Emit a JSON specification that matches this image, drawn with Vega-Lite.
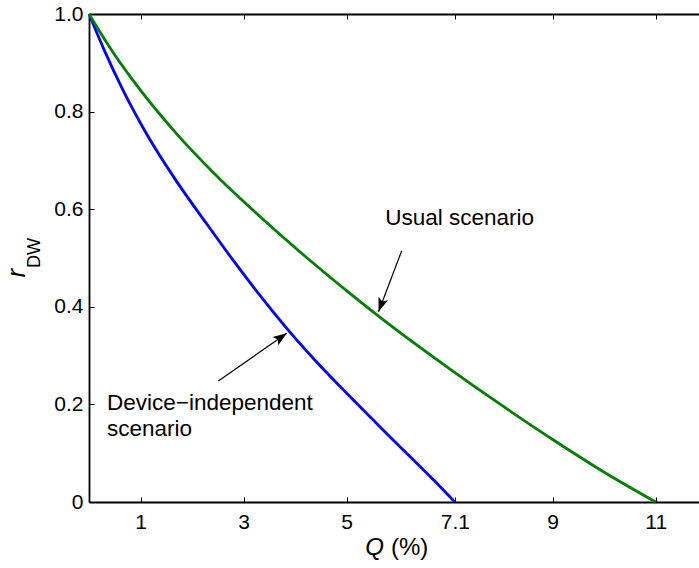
{
  "$schema": "https://vega.github.io/schema/vega-lite/v6.json",
  "width": 610,
  "height": 488,
  "autosize": {"type": "none"},
  "padding": {"left": 89, "top": 14, "right": 0, "bottom": 66},
  "background": "white",
  "view": {"stroke": null},
  "config": {
    "font": "Liberation Sans",
    "axis": {
      "grid": false,
      "domainColor": "black",
      "domainWidth": 1.8,
      "tickColor": "black",
      "tickWidth": 1,
      "labelFont": "Liberation Sans",
      "labelFontSize": 21,
      "labelColor": "black"
    }
  },
  "datasets": {
    "curves": [
      {"Q": 0, "r": 1, "scenario": "Device-independent"},
      {"Q": 0.3, "r": 0.925, "scenario": "Device-independent"},
      {"Q": 0.65, "r": 0.846, "scenario": "Device-independent"},
      {"Q": 1.13, "r": 0.752, "scenario": "Device-independent"},
      {"Q": 1.7, "r": 0.657, "scenario": "Device-independent"},
      {"Q": 2.25, "r": 0.575, "scenario": "Device-independent"},
      {"Q": 2.8, "r": 0.495, "scenario": "Device-independent"},
      {"Q": 3.38, "r": 0.415, "scenario": "Device-independent"},
      {"Q": 3.9, "r": 0.348, "scenario": "Device-independent"},
      {"Q": 4.4, "r": 0.289, "scenario": "Device-independent"},
      {"Q": 4.87, "r": 0.237, "scenario": "Device-independent"},
      {"Q": 5.8, "r": 0.138, "scenario": "Device-independent"},
      {"Q": 6.69, "r": 0.045, "scenario": "Device-independent"},
      {"Q": 7.1, "r": 0, "scenario": "Device-independent"},
      {"Q": 0, "r": 1, "scenario": "Usual"},
      {"Q": 0.42, "r": 0.929, "scenario": "Usual"},
      {"Q": 0.84, "r": 0.866, "scenario": "Usual"},
      {"Q": 1.68, "r": 0.757, "scenario": "Usual"},
      {"Q": 2.5, "r": 0.666, "scenario": "Usual"},
      {"Q": 3.35, "r": 0.582, "scenario": "Usual"},
      {"Q": 4.2, "r": 0.503, "scenario": "Usual"},
      {"Q": 5.07, "r": 0.427, "scenario": "Usual"},
      {"Q": 6, "r": 0.35, "scenario": "Usual"},
      {"Q": 7, "r": 0.273, "scenario": "Usual"},
      {"Q": 8, "r": 0.199, "scenario": "Usual"},
      {"Q": 9, "r": 0.128, "scenario": "Usual"},
      {"Q": 10, "r": 0.061, "scenario": "Usual"},
      {"Q": 11, "r": 0, "scenario": "Usual"}
    ],
    "arrows": [
      {"name": "Usual", "x1": 6.07, "y1": 0.515, "x2": 5.62, "y2": 0.39},
      {"name": "Device", "x1": 2.51, "y1": 0.248, "x2": 3.84, "y2": 0.346}
    ],
    "labels": [
      {"text": "Usual scenario", "Q": 5.75, "r": 0.568},
      {"text": "Device−independent", "Q": 0.35, "r": 0.189},
      {"text": "scenario", "Q": 0.35, "r": 0.135}
    ]
  },
  "resolve": {"axis": {"x": "independent"}},
  "layer": [
    {
      "data": {"name": "curves"},
      "mark": {"type": "line", "strokeWidth": 2.8, "interpolate": "monotone", "clip": false},
      "encoding": {
        "x": {
          "field": "Q", "type": "quantitative",
          "scale": {"domain": [0, 11.84], "nice": false, "zero": false},
          "axis": {
            "orient": "bottom", "title": null,
            "values": [1, 3, 5, 7.1, 9, 11],
            "labelExpr": "datum.value + ''",
            "tickSize": -5, "labelPadding": 14
          }
        },
        "y": {
          "field": "r", "type": "quantitative",
          "scale": {"domain": [0, 1], "nice": false, "zero": false},
          "axis": {
            "title": null,
            "values": [0, 0.2, 0.4, 0.6, 0.8, 1.0],
            "labelExpr": "datum.value == 0 ? '0' : format(datum.value, '.1f')",
            "tickSize": -5, "labelPadding": 11
          }
        },
        "color": {
          "field": "scenario", "type": "nominal",
          "scale": {"domain": ["Device-independent", "Usual"], "range": ["#0000ff", "#008000"]},
          "legend": null
        }
      }
    },
    {
      "data": {"name": "arrows"},
      "mark": {"type": "rule", "color": "black", "strokeWidth": 1.2},
      "encoding": {
        "x": {
          "field": "x1", "type": "quantitative",
          "axis": {"orient": "top", "title": null, "labels": false, "values": [1, 3, 5, 7.1, 9, 11], "tickSize": -5}
        },
        "y": {"field": "y1", "type": "quantitative"},
        "x2": {"field": "x2"},
        "y2": {"field": "y2"}
      }
    },
    {
      "data": {"name": "arrows"},
      "transform": [{"filter": "datum.name == 'Usual'"}],
      "mark": {"type": "point", "shape": "M0,0L-1,-0.36L-0.78,0L-1,0.36Z", "filled": true, "color": "black", "opacity": 1, "size": 784, "angle": 109.5},
      "encoding": {
        "x": {"field": "x2", "type": "quantitative", "axis": null},
        "y": {"field": "y2", "type": "quantitative"}
      }
    },
    {
      "data": {"name": "arrows"},
      "transform": [{"filter": "datum.name == 'Device'"}],
      "mark": {"type": "point", "shape": "M0,0L-1,-0.36L-0.78,0L-1,0.36Z", "filled": true, "color": "black", "opacity": 1, "size": 784, "angle": 325.1},
      "encoding": {
        "x": {"field": "x2", "type": "quantitative", "axis": null},
        "y": {"field": "y2", "type": "quantitative"}
      }
    },
    {
      "data": {"name": "labels"},
      "mark": {"type": "text", "align": "left", "baseline": "alphabetic", "fontSize": 22.5, "font": "Liberation Sans", "color": "black"},
      "encoding": {
        "x": {"field": "Q", "type": "quantitative", "axis": null},
        "y": {"field": "r", "type": "quantitative"},
        "text": {"field": "text"}
      }
    },
    {
      "data": {"values": [{"t": "Q", "Q": 5.36, "r": -0.109}]},
      "mark": {"type": "text", "align": "left", "baseline": "alphabetic", "fontSize": 24, "fontStyle": "italic", "font": "Liberation Sans", "color": "black", "clip": false},
      "encoding": {
        "x": {"field": "Q", "type": "quantitative", "axis": null},
        "y": {"field": "r", "type": "quantitative"},
        "text": {"field": "t"}
      }
    },
    {
      "data": {"values": [{"t": "(%)", "Q": 5.86, "r": -0.109}]},
      "mark": {"type": "text", "align": "left", "baseline": "alphabetic", "fontSize": 24, "font": "Liberation Sans", "color": "black", "clip": false},
      "encoding": {
        "x": {"field": "Q", "type": "quantitative", "axis": null},
        "y": {"field": "r", "type": "quantitative"},
        "text": {"field": "t"}
      }
    },
    {
      "data": {"values": [{"t": "r", "Q": -1.243, "r": 0.469}]},
      "mark": {"type": "text", "align": "center", "baseline": "alphabetic", "angle": 270, "fontSize": 26, "fontStyle": "italic", "font": "Liberation Sans", "color": "black", "clip": false},
      "encoding": {
        "x": {"field": "Q", "type": "quantitative", "axis": null},
        "y": {"field": "r", "type": "quantitative"},
        "text": {"field": "t"}
      }
    },
    {
      "data": {"values": [{"t": "DW", "Q": -0.951, "r": 0.51}]},
      "mark": {"type": "text", "align": "center", "baseline": "alphabetic", "angle": 270, "fontSize": 18, "font": "Liberation Sans", "color": "black", "clip": false},
      "encoding": {
        "x": {"field": "Q", "type": "quantitative", "axis": null},
        "y": {"field": "r", "type": "quantitative"},
        "text": {"field": "t"}
      }
    }
  ]
}
